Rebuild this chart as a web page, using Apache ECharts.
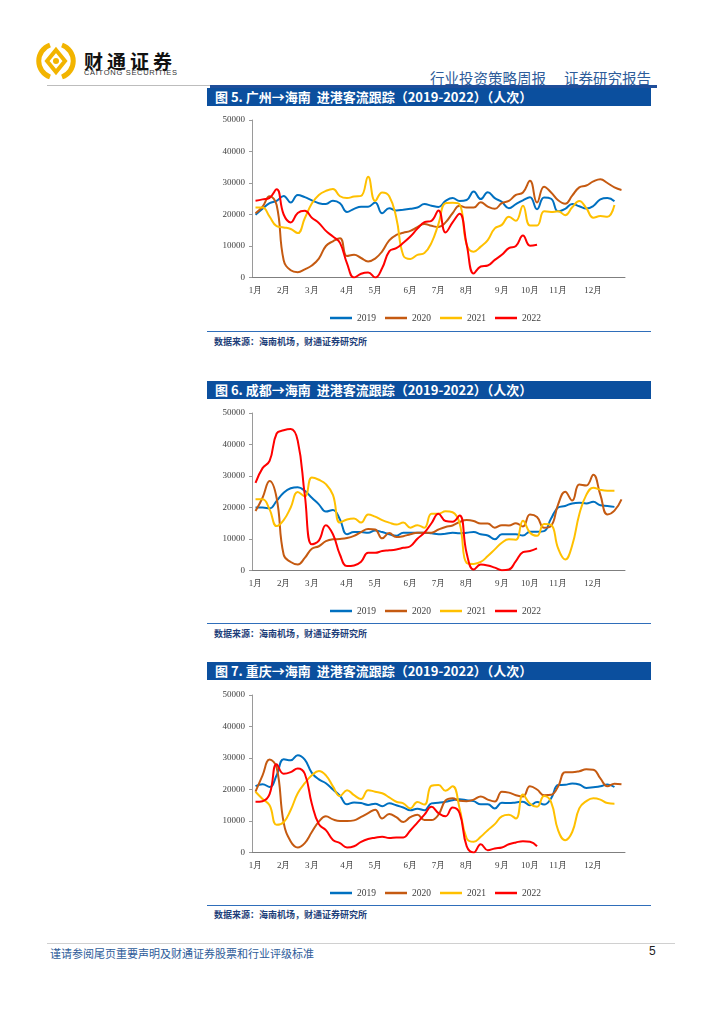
<!DOCTYPE html>
<html>
<head>
<meta charset="utf-8">
<title>进港客流跟踪</title>
<script src="https://cdn.jsdelivr.net/npm/echarts@6/dist/echarts.min.js"></script>
<style>
    body { margin: 0; background: #fff; font-family: "Noto Sans CJK SC", sans-serif; }
    .page { position: relative; width: 724px; height: 1024px; overflow: hidden; }
    .abs { position: absolute; }
    .bar { left: 207px; width: 444px; height: 18px; background: #0b4f9e; color: #fff;
           font-size: 13px; font-weight: bold; line-height: 18px; padding-left: 8px; box-sizing: border-box; white-space: nowrap; }
    .chart { left: 207px; width: 444px; height: 220px; }
    .srcline { left: 207px; width: 444px; height: 1px; background: #2f6eba; }
    .src { left: 214px; font-size: 9px; font-weight: bold; color: #1f3f7a; white-space: nowrap; }
</style>
</head>
<body>
<div class="page">
    <!-- 页眉 -->
    <svg class="abs" style="left:36px;top:41px" width="40" height="40" viewBox="0 0 40 40">
        <path d="M14 4 A17 17 0 0 0 14 36" fill="none" stroke="#f2b400" stroke-width="5"/>
        <path d="M26 4 A17 17 0 0 1 26 36" fill="none" stroke="#f2b400" stroke-width="5"/>
        <path d="M20 9 L29 20 L20 31 L11 20 Z" fill="none" stroke="#f2b400" stroke-width="4"/>
        <circle cx="20" cy="20" r="3" fill="#f2b400"/>
    </svg>
    <div class="abs" style="left:84px;top:47px;font-size:19px;font-weight:bold;color:#111;letter-spacing:4px">财通证券</div>
    <div class="abs" style="left:84px;top:68px;font-size:7.5px;color:#333;letter-spacing:0.7px;font-family:'Liberation Sans'">CAITONG SECURITIES</div>
    <div class="abs" style="left:430px;top:67px;font-size:14.5px;color:#2e5c9a;white-space:nowrap">行业投资策略周报<span style="margin-left:18px">证券研究报告</span></div>
    <div class="abs" style="left:47px;top:85px;width:163px;height:1px;background:#bdbdbd"></div>
    <div class="abs" style="left:210px;top:85px;width:447px;height:2.5px;background:#1f4e9a"></div>

    <!-- 图5 -->
    <div class="abs bar" style="top:88px">图 5. 广州→海南&nbsp; 进港客流跟踪（2019-2022）（人次）</div>
    <div class="abs chart" id="chartGz" style="top:108px"></div>
    <div class="abs srcline" style="top:331px"></div>
    <div class="abs src" style="top:335px">数据来源：海南机场，财通证券研究所</div>

    <!-- 图6 -->
    <div class="abs bar" style="top:381px">图 6. 成都→海南&nbsp; 进港客流跟踪（2019-2022）（人次）</div>
    <div class="abs chart" id="chartCd" style="top:401px"></div>
    <div class="abs srcline" style="top:623px"></div>
    <div class="abs src" style="top:627px">数据来源：海南机场，财通证券研究所</div>

    <!-- 图7 -->
    <div class="abs bar" style="top:662px">图 7. 重庆→海南&nbsp; 进港客流跟踪（2019-2022）（人次）</div>
    <div class="abs chart" id="chartCq" style="top:683px"></div>
    <div class="abs srcline" style="top:905px"></div>
    <div class="abs src" style="top:908px">数据来源：海南机场，财通证券研究所</div>

    <!-- 页脚 -->
    <div class="abs" style="left:47px;top:943px;width:628px;height:1px;background:#d0d0d0"></div>
    <div class="abs" style="left:50px;top:945px;font-size:11px;color:#2e5c9a;white-space:nowrap">谨请参阅尾页重要声明及财通证券股票和行业评级标准</div>
    <div class="abs" style="left:649px;top:944px;font-size:12px;color:#222;font-family:'Liberation Sans'">5</div>
</div>
<script>
/*--------------------------------------------------------------------------------
 数据：按周（共53周），月份标签落在对应周
--------------------------------------------------------------------------------*/
const weekCount = 53;
const monthLabels = ['1月', '2月', '3月', '4月', '5月', '6月', '7月', '8月', '9月', '10月', '11月', '12月'];
const monthWeekIdx = [0, 4, 8, 13, 17, 22, 26, 30, 35, 39, 43, 48];
const yearNames = ['2019', '2020', '2021', '2022'];
const yearColors = ['#0070c0', '#c55a11', '#ffc000', '#ff0000'];

// 广州→海南
const gz2019 = [19900, 21800, 23600, 24300, 25900, 23800, 26200, 25500, 24500, 23600, 23300, 24400, 23600, 20800, 21800, 22500, 22500, 23800, 20400, 22000, 21300, 21500, 21800, 22200, 23300, 22800, 22400, 24300, 25200, 24300, 24600, 27300, 24900, 27100, 25200, 24000, 22000, 23300, 24500, 25500, 21700, 25400, 25000, 21000, 21800, 23300, 22600, 21900, 22700, 24800, 25200, 24200];
const gz2020 = [20400, 22500, 25800, 23000, 5500, 2300, 1700, 2600, 3800, 6000, 10000, 11500, 12500, 6800, 7200, 6200, 5100, 6000, 8300, 11800, 13500, 14200, 14800, 16000, 17000, 16400, 16000, 17500, 20400, 22800, 22200, 22200, 23900, 22500, 21800, 23600, 24300, 26200, 27000, 30700, 23800, 28800, 27000, 24500, 23400, 26000, 28600, 29200, 30500, 31200, 30000, 28600, 27800];
const gz2021 = [22200, 22200, 19300, 16300, 15900, 15400, 14100, 18800, 23500, 26200, 27500, 28100, 25800, 25200, 25700, 25900, 32000, 24300, 27000, 25800, 19000, 7000, 5900, 7200, 7800, 11000, 17000, 23600, 23700, 23200, 10400, 8200, 9800, 11900, 15600, 16700, 19300, 18000, 22800, 16500, 16500, 21000, 20800, 21000, 19800, 22300, 24300, 22000, 19000, 19500, 19300, 23000];
const gz2022 = [24400, 24800, 25300, 28000, 20000, 17500, 20500, 21200, 19000, 17300, 14800, 13000, 11000, 4500, 0, 1200, 1600, 0, 3000, 8300, 9300, 11000, 13000, 15500, 17600, 18000, 21300, 14300, 17500, 20200, 10500, 1300, 3500, 3800, 5600, 7200, 9300, 10000, 13300, 10100, 10400];

// 成都→海南
const cd2019 = [20000, 20000, 19700, 22100, 24700, 26100, 26400, 25300, 23100, 21000, 18700, 19200, 16200, 11500, 12200, 12200, 12000, 12700, 12200, 11500, 11000, 12000, 12000, 12000, 12000, 11800, 11500, 11700, 12000, 11800, 12000, 12200, 11500, 11100, 9900, 11500, 11500, 11500, 11100, 12300, 12300, 12500, 16500, 20000, 20500, 21300, 21500, 21300, 21800, 20700, 20500, 20200];
const cd2020 = [18900, 23100, 28400, 23000, 5000, 2700, 1900, 4000, 6900, 7700, 9300, 9900, 10000, 10300, 11000, 12200, 13200, 13000, 10200, 11900, 10600, 10900, 11500, 12000, 12000, 12000, 13000, 13800, 14300, 15400, 16000, 15700, 14900, 14900, 13600, 14400, 14300, 15000, 14000, 17800, 17000, 13600, 14200, 21000, 25000, 22200, 27300, 27000, 30400, 24000, 17800, 19000, 22600];
const cd2021 = [22600, 22600, 19400, 14100, 16000, 20000, 24900, 23500, 29500, 28800, 27400, 24000, 15200, 16200, 16500, 15200, 17800, 17100, 16000, 15200, 14600, 15200, 13600, 14400, 13600, 18000, 18000, 18800, 18500, 15000, 2400, 2100, 2700, 4600, 6700, 8800, 9900, 9800, 15800, 12000, 11000, 14800, 14500, 7000, 3500, 8000, 17800, 24000, 26300, 25600, 25300, 25300];
const cd2022 = [27800, 32500, 34800, 43500, 44500, 44900, 41200, 24000, 8300, 9500, 14400, 11500, 5000, 1400, 1600, 2800, 5600, 5600, 6200, 6400, 6700, 7200, 7700, 10100, 12000, 15000, 18000, 15700, 15500, 17500, 5500, 300, 1900, 1600, 900, 100, 300, 3000, 5800, 6200, 7000];

// 重庆→海南
const cq2019 = [21100, 21700, 20800, 24500, 29600, 29300, 30900, 29500, 25300, 23200, 22000, 20000, 18000, 15300, 15900, 15700, 15100, 15500, 14700, 15600, 15000, 14300, 13400, 13900, 13400, 15600, 15800, 16100, 16600, 16900, 16600, 16300, 15300, 15300, 14000, 15800, 15700, 15900, 16100, 15000, 16000, 15200, 17200, 21400, 21500, 21900, 21600, 20500, 20700, 21000, 21600, 20800];
const cq2020 = [19300, 24500, 29500, 27000, 9500, 3500, 1600, 3000, 6500, 9800, 11500, 10500, 10000, 10000, 10200, 11300, 12500, 13600, 10800, 12200, 11200, 9700, 11200, 12000, 10300, 10300, 12000, 16500, 17200, 16400, 16300, 16800, 17800, 16800, 16200, 19300, 19000, 18200, 17800, 21000, 20000, 18200, 18300, 21000, 25500, 25500, 25800, 26400, 26300, 23500, 21000, 21800, 21700];
const cq2021 = [19300, 17000, 15000, 8800, 9600, 13500, 18800, 22000, 24500, 25900, 24500, 21000, 17900, 19800, 18200, 17000, 19800, 19300, 18800, 17500, 16100, 15600, 14000, 16000, 15200, 21200, 21400, 19600, 21000, 14000, 4500, 3400, 5000, 7100, 9000, 11500, 12000, 10800, 18400, 15500, 14500, 17900, 16000, 7000, 3900, 6500, 14000, 16300, 17200, 16800, 15700, 15500];
const cq2022 = [16100, 16300, 18500, 28000, 25000, 25500, 26700, 25000, 15500, 9000, 7100, 4000, 3000, 1600, 2000, 3400, 4300, 4700, 5000, 4600, 4800, 4800, 7000, 9500, 12000, 14500, 12500, 11500, 14300, 12500, 2000, 0, 2600, 700, 1300, 1600, 2600, 3200, 3600, 3400, 2000];

/*--------------------------------------------------------------------------------
 周类目：只有每月首周显示月份
--------------------------------------------------------------------------------*/
let weekCats = [];
for (let i = 0; i < weekCount; i++) {
    let m = monthWeekIdx.indexOf(i);
    weekCats.push(m >= 0 ? monthLabels[m] : '');
}

const serifFont = "Liberation Serif";

function buildOption(lines) {
    return {
        animation: false,
        grid: { left: 45, right: 26, top: 12, height: 157.5 },
        legend: {
            data: yearNames,
            top: 200,
            left: 118,
            icon: 'rect',
            itemWidth: 22,
            itemHeight: 2.5,
            itemGap: 9,
            textStyle: { color: '#404040', fontSize: 9.5, fontFamily: serifFont }
        },
        xAxis: {
            type: 'category',
            data: weekCats,
            boundaryGap: true,
            axisLine: { lineStyle: { color: '#7f7f7f', width: 1 } },
            axisTick: { show: false },
            axisLabel: { interval: 0, color: '#404040', fontSize: 9, fontFamily: serifFont, margin: 9 }
        },
        yAxis: {
            type: 'value',
            min: 0,
            max: 50000,
            interval: 10000,
            axisLine: { show: true, lineStyle: { color: '#9a9a9a' } },
            axisTick: { show: true, length: 3, lineStyle: { color: '#9a9a9a' } },
            splitLine: { show: false },
            axisLabel: {
                color: '#404040', fontSize: 9, fontFamily: serifFont, margin: 7,
                formatter: function (value) { return String(value); }
            }
        },
        series: lines.map((d, k) => ({
            name: yearNames[k],
            type: 'line',
            data: d,
            smooth: 0.45,
            symbol: 'none',
            lineStyle: { color: yearColors[k], width: 2 },
            itemStyle: { color: yearColors[k] }
        }))
    };
}

echarts.init(document.getElementById('chartGz')).setOption(buildOption([gz2019, gz2020, gz2021, gz2022]));
echarts.init(document.getElementById('chartCd')).setOption(buildOption([cd2019, cd2020, cd2021, cd2022]));
echarts.init(document.getElementById('chartCq')).setOption(buildOption([cq2019, cq2020, cq2021, cq2022]));
</script>
</body>
</html>
